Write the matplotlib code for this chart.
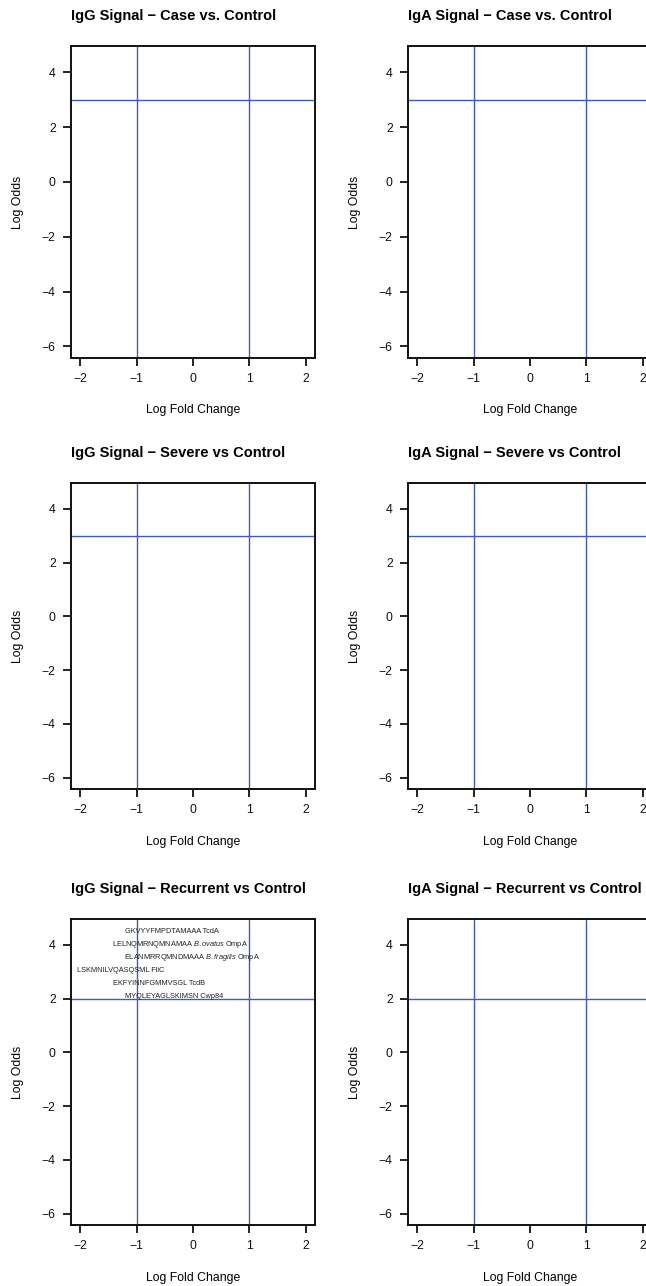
import matplotlib
matplotlib.use("Agg")
import matplotlib.pyplot as plt

FIG_W_PX = 646
FIG_H_PX = 1286
DPI = 100

plt.rcParams["font.family"] = ["Liberation Sans", "DejaVu Sans"]
plt.rcParams["mathtext.fontset"] = "custom"
plt.rcParams["mathtext.rm"] = "Liberation Sans"
plt.rcParams["mathtext.it"] = "Liberation Sans:italic"

COMPARISONS = ["Case vs. Control", "Severe vs Control", "Recurrent vs Control"]
SIGNALS = ["IgG", "IgA"]
ODDS_CUTOFFS = [3, 3, 2]
FC_CUTOFFS = [-1, 1]
X_TICKS = [-2, -1, 0, 1, 2]
Y_TICKS = [-6, -4, -2, 0, 2, 4]
X_LIM = (-2.16, 2.16)
Y_LIM = (-6.42, 4.96)

# hits in the IgG recurrent panel
HIT_PEPTIDES = ["GKVYYFMPDTAMAAA", "LELNQMRNQMNAMAA", "ELANMRRQMNDMAAA",
                "LSKMNILVQASQSML", "EKFYINNFGMMVSGL", "MYQLEYAGLSKIMSN"]
HIT_PROTEINS = ["TcdA", r"$\it{B.ovatus}$ OmpA", r"$\it{B.fragilis}$ OmpA",
                "FliC", "TcdB", "Cwp84"]
HIT_LOG_FC = [-0.38, -0.23, -0.02, -1.28, -0.60, -0.34]
HIT_LOG_ODDS = [4.49, 4.00, 3.53, 3.05, 2.57, 2.08]

# panel boxes in pixels: (left, right) per column, (top, bottom) per row
COL_X = [(71, 315), (408, 652)]
ROW_Y = [(46, 358), (483, 789), (919, 1225)]

LINE_BLUE = "#3f5cb5"


def panel(fig, col, row):
    x0, x1 = COL_X[col]
    y0, y1 = ROW_Y[row]
    w, h = x1 - x0, y1 - y0
    ax = fig.add_axes([x0 / FIG_W_PX, 1 - y1 / FIG_H_PX, w / FIG_W_PX, h / FIG_H_PX])
    ax.set_xlim(*X_LIM)
    ax.set_ylim(*Y_LIM)
    ax.set_xticks(X_TICKS)
    ax.set_yticks(Y_TICKS)
    ax.set_xticklabels([str(t).replace("-", "\u2212") for t in X_TICKS])
    ax.set_yticklabels([str(t).replace("-", "\u2212") for t in Y_TICKS])
    ax.tick_params(direction="out", length=5.5, width=1.3, labelsize=8.8,
                   pad=5.5, colors="#111111")
    for spine in ax.spines.values():
        spine.set_linewidth(1.4)
        spine.set_color("#111111")

    for fc in FC_CUTOFFS:
        ax.axvline(fc, color=LINE_BLUE, lw=1.0, zorder=1)
    ax.axhline(ODDS_CUTOFFS[row], color=LINE_BLUE, lw=1.0, zorder=1)

    ax.set_title(f"{SIGNALS[col]} Signal \u2212 {COMPARISONS[row]}", loc="left",
                 fontsize=10.5, fontweight="bold", y=1 + 30 / h, va="center", pad=0)
    xl = ax.set_xlabel("Log Fold Change", fontsize=8.8, va="center")
    ax.xaxis.set_label_coords(0.5, -52.5 / h)
    yl = ax.set_ylabel("Log Odds", fontsize=8.8, va="center", ha="center")
    yl.set_rotation_mode("default")
    ax.yaxis.set_label_coords(-53 / w, 0.5)
    return ax


fig = plt.figure(figsize=(FIG_W_PX / DPI, FIG_H_PX / DPI), dpi=DPI)

for row in range(len(COMPARISONS)):
    for col in range(len(SIGNALS)):
        ax = panel(fig, col, row)
        if col == 0 and row == 2:
            for pep, prot, fc, lo in zip(HIT_PEPTIDES, HIT_PROTEINS, HIT_LOG_FC, HIT_LOG_ODDS):
                ax.text(fc, lo, f"{pep} {prot}", fontsize=5.3, ha="center",
                        va="center", color="#222222", zorder=3)

fig.savefig("out.png", dpi=DPI)
